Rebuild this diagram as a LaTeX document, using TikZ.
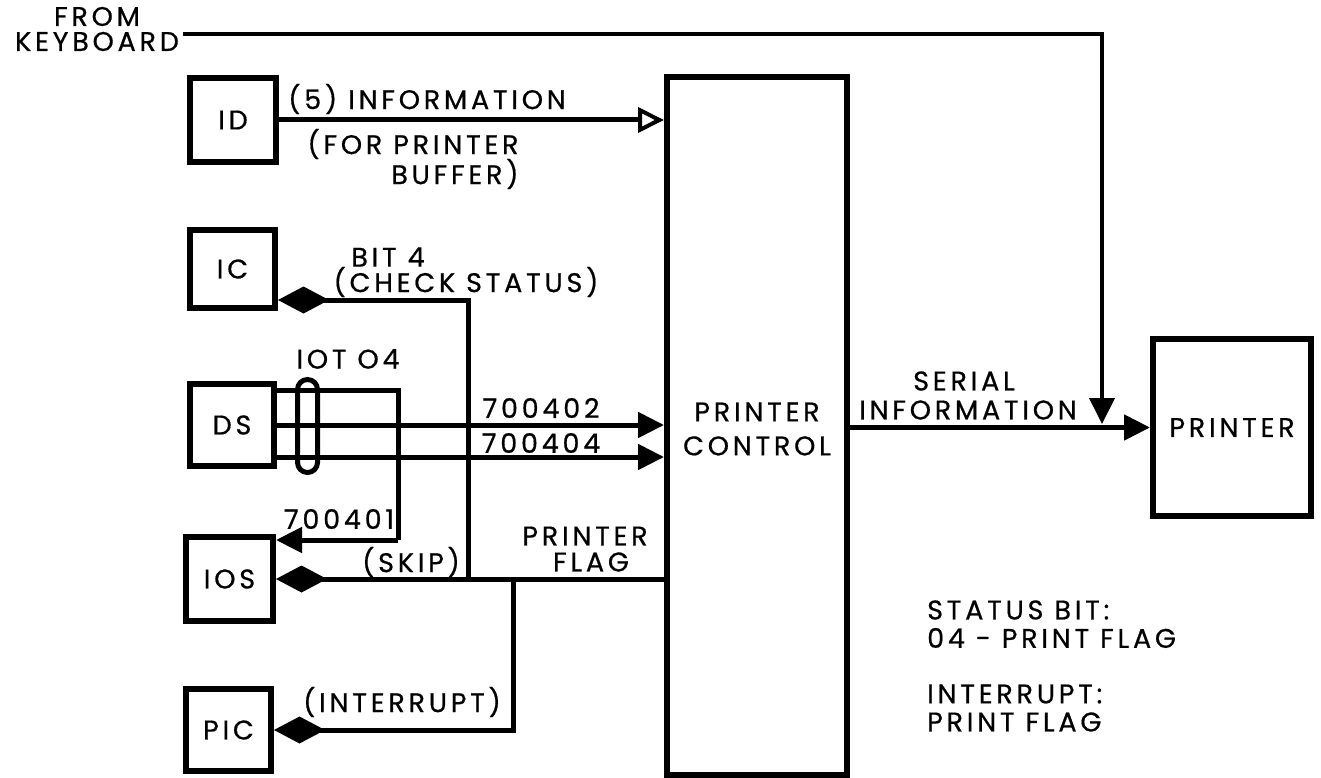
\documentclass[tikz,border=0pt]{standalone}
\usepackage{fontspec}
\setmainfont{Poppins}[LetterSpace=14,FakeBold=0.6]
\usetikzlibrary{arrows.meta}
\begin{document}
\begin{tikzpicture}[x=1pt,y=-1pt,
  box/.style={draw, line width=6pt, inner sep=0pt, font=\fontsize{27}{31}\selectfont},
  wire/.style={line width=5pt},
  thinwire/.style={line width=4pt},
  lbl/.style={inner sep=0pt, font=\fontsize{27}{31}\selectfont},
  farrow/.style={-{Triangle[length=26pt,width=25pt]}},
  oarrow/.style={-{Triangle[open,length=26pt,width=25pt,line width=4pt]}},
  dstart/.style={{Diamond[length=51pt,width=27pt]}-},
  dend/.style={-{Diamond[length=51pt,width=27pt]}}]
\useasboundingbox (0,0) rectangle (1321,778);
\fill[white] (0,0) rectangle (1321,778);

% boxes
\node[box, minimum width=86pt, minimum height=84pt] (ID)  at (233,120) {ID};
\node[box, minimum width=85pt, minimum height=78pt] (IC)  at (232.5,269) {IC};
\node[box, minimum width=84pt, minimum height=82pt] (DS)  at (232,425) {DS};
\node[box, minimum width=87pt, minimum height=84pt] (IOS) at (229.5,579) {IOS};
\node[box, minimum width=85pt, minimum height=82pt] (PIC) at (228.5,730) {PIC};
\node[box, minimum width=180pt, minimum height=697pt] (PC) at (757,426) {};
\node[box, minimum width=158pt, minimum height=177pt] (PR) at (1232,427.5) {PRINTER};

% labels
\node[lbl, align=center, font=\fontsize{27}{25}\selectfont] (kb) at (97,29) {FROM\\KEYBOARD};
\node[lbl, align=center, font=\fontsize{27}{34}\selectfont] (pcl) at (757,429) {PRINTER\\CONTROL};
\node[lbl] (inf) at (427,99) {(5) INFORMATION};
\node[lbl] (fpr) at (413,144) {(FOR PRINTER};
\node[lbl, anchor=east] (buf) at (fpr.east |- 0,174) {BUFFER)};
\node[lbl] (bit) at (388,257) {BIT 4};
\node[lbl] (chk) at (466,282) {(CHECK STATUS)};
\node[lbl] (iot) at (348,359) {IOT O4};
\node[lbl] (n402) at (541,408) {700402};
\node[lbl] (n404) at (541,443) {700404};
\node[lbl] (n401) at (339,519) {700401};
\node[lbl] (skip) at (411,562) {(SKIP)};
\node[lbl] (pfl1) at (585,536) {PRINTER};
\node[lbl] (pfl2) at (591,562) {FLAG};
\node[lbl] (intr) at (402,702) {(INTERRUPT)};
\node[lbl] (ser1) at (964,381) {SERIAL};
\node[lbl] (ser2) at (968,410) {INFORMATION};
\node[lbl, anchor=west] (st1) at (927,610) {STATUS BIT:};
\node[lbl, anchor=west] (st2) at (927,638) {04 - PRINT FLAG};
\node[lbl, anchor=west] (st3) at (927,694) {INTERRUPT:};
\node[lbl, anchor=west] (st4) at (927,722) {PRINT FLAG};

% coordinates
\coordinate (kbc) at (1102,34);
\coordinate (kbt) at (1102,424);
\coordinate (icb) at (468,300);
\coordinate (dsb1) at (398,390);
\coordinate (dsb2) at (398,540);
\coordinate (l4) at (300,457);
\coordinate (pb) at (513,578);

% connectors
\draw[thinwire, farrow] ([xshift=4pt]kb.east |- kbc) -- (kbc) -- (kbt);
\draw[wire, oarrow] (ID.east) -- (ID.east -| PC.west);
\draw[wire, dstart] (IC.east |- icb) -- (icb) -- (icb |- IOS.east);
\draw[wire] (DS.east |- dsb1) -- (dsb1) -- (dsb2);
\draw[wire, farrow] (dsb2) -- (IOS.east |- dsb2);
\draw[wire, farrow] (DS.east) -- (DS.east -| PC.west);
\draw[wire, farrow] (DS.east |- l4) -- (PC.west |- l4);
\draw[wire, dend] (PC.west |- IOS.east) -- (IOS.east);
\draw[wire, dend] (pb |- IOS.east) -- (pb |- PIC.east) -- (PIC.east);
\draw[wire, farrow] (PC.east |- PR.west) -- (PR.west);

% IOT 04 bundle
\node[draw, line width=5pt, rounded corners=10pt, minimum width=20pt, minimum height=93pt, inner sep=0pt] (bundle) at (307.5,426) {};
\end{tikzpicture}
\end{document}
